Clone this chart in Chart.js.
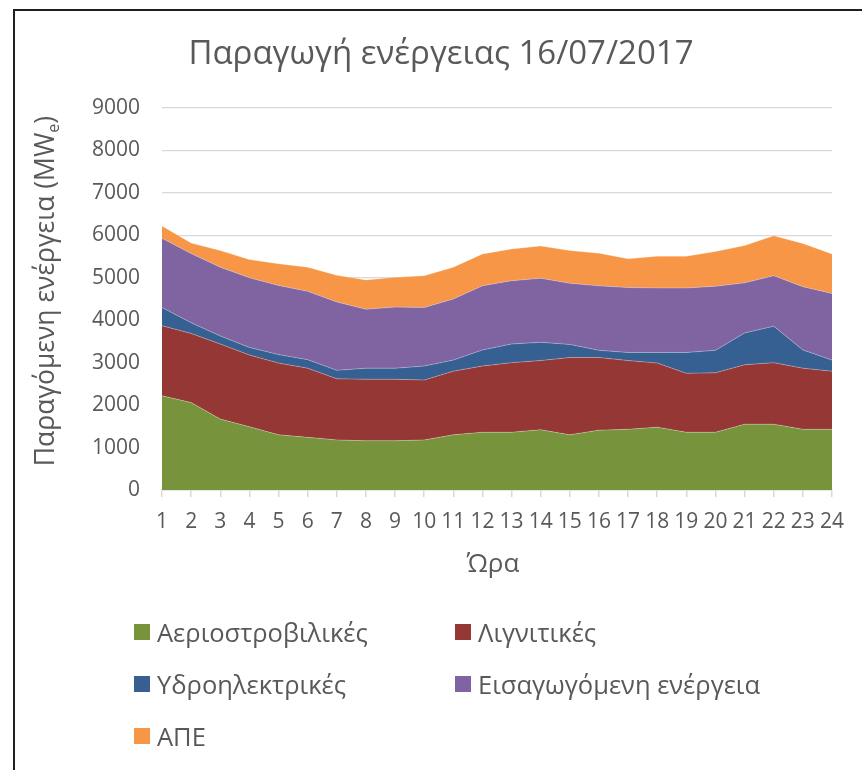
<!DOCTYPE html>
<html lang="el">
<head>
<meta charset="utf-8">
<title>Παραγωγή ενέργειας 16/07/2017</title>
<script src="https://cdn.jsdelivr.net/npm/chart.js@4/dist/chart.umd.min.js"></script>
<style>
  html, body { margin: 0; padding: 0; background: #fff; }
  #wrap { position: relative; width: 862px; height: 770px; overflow: hidden; font-family: "Open Sans", sans-serif; color: #595959; }
  #frame { position: absolute; left: 13px; top: 9px; right: -10px; bottom: -10px; border-left: 2px solid #1f1f1f; border-top: 2px solid #1f1f1f; }
  canvas { position: absolute; left: 0; top: 0; }
  .txt { position: absolute; white-space: nowrap; }
  #title { left: 0; width: 882px; top: 30px; text-align: center; font-size: 33px; line-height: 44px; }
  #ytitle { left: 44px; top: 291px; font-size: 26.5px; line-height: 34px; transform: translate(-50%, -50%) rotate(-90deg); }
  #ytitle sub { font-size: 16px; vertical-align: -5px; line-height: 0; }
  #xtitle { left: 493px; top: 562px; font-size: 26px; line-height: 34px; transform: translate(-50%, -50%); }
  .leg { position: absolute; display: flex; align-items: center; font-size: 25.5px; line-height: 34px; white-space: nowrap; }
  .leg i { display: inline-block; width: 16px; height: 16px; margin-right: 7px; }
</style>
</head>
<body>
<div id="wrap">
  <canvas id="c" width="862" height="770"></canvas>
  <div id="frame"></div>
  <div id="title" class="txt">Παραγωγή ενέργειας 16/07/2017</div>
  <div id="ytitle" class="txt">Παραγόμενη ενέργεια (MW<sub>e</sub>)</div>
  <div id="xtitle" class="txt">Ώρα</div>
  <div id="legend"></div>
</div>
<script>
// Hour of day
const hours = ['1','2','3','4','5','6','7','8','9','10','11','12','13','14','15','16','17','18','19','20','21','22','23','24'];

// Hourly production per source (MWe), stacked in this order
const gasTurbine = [2220, 2060, 1670, 1490, 1300, 1240, 1180, 1160, 1160, 1180, 1300, 1360, 1360, 1420, 1300, 1410, 1430, 1480, 1360, 1360, 1550, 1550, 1430, 1430];
const lignite    = [1650, 1630, 1770, 1690, 1690, 1630, 1440, 1450, 1450, 1410, 1500, 1560, 1640, 1630, 1820, 1710, 1620, 1510, 1390, 1400, 1400, 1450, 1440, 1370];
const hydro      = [ 430,  250,  190,  180,  200,  200,  200,  260,  260,  330,  260,  380,  440,  430,  310,  170,  190,  250,  490,  530,  750,  860,  430,  260];
const imports    = [1630, 1630, 1620, 1640, 1630, 1610, 1610, 1390, 1440, 1380, 1440, 1510, 1490, 1510, 1440, 1520, 1530, 1520, 1520, 1510, 1180, 1190, 1490, 1570];
const renewables = [ 290,  250,  390,  430,  510,  570,  630,  690,  700,  750,  750,  750,  750,  760,  770,  770,  680,  750,  750,  820,  880,  940, 1020,  930];

const seriesNames = ['Αεριοστροβιλικές', 'Λιγνιτικές', 'Υδροηλεκτρικές', 'Εισαγωγόμενη ενέργεια', 'ΑΠΕ'];
const seriesData  = [gasTurbine, lignite, hydro, imports, renewables];
const seriesColors = ['#77933C', '#953735', '#376092', '#8064A2', '#F79646'];

// Y axis range
const yMin = 0, yMax = 9000, yStep = 1000;

const datasets = seriesData.map((d, i) => ({
  label: seriesNames[i],
  data: d,
  backgroundColor: seriesColors[i],
  borderColor: 'rgba(255,255,255,0.35)',
  borderWidth: 0.8,
  pointRadius: 0,
  pointHoverRadius: 0,
  tension: 0,
  fill: i === 0 ? 'origin' : '-1'
}));

const tickFont = { family: '"Open Sans", sans-serif', size: 21 };

new Chart(document.getElementById('c'), {
  type: 'line',
  data: { labels: hours, datasets },
  options: {
    responsive: false,
    animation: false,
    devicePixelRatio: 1,
    layout: { padding: { left: 90, right: 30, top: 108, bottom: 220 } },
    plugins: {
      legend: { display: false },
      title: { display: false },
      tooltip: { enabled: false },
      filler: { propagate: false }
    },
    scales: {
      x: {
        type: 'category',
        offset: false,
        afterFit: s => { s.height = 60; },
        grid: {
          offset: false,
          drawOnChartArea: false,
          drawTicks: true,
          tickLength: 7,
          color: '#d9d9d9',
          lineWidth: 1.5
        },
        border: { display: true, color: '#d9d9d9', width: 1.5 },
        ticks: { color: '#595959', font: tickFont, padding: 12, maxRotation: 0, autoSkip: false }
      },
      y: {
        stacked: true,
        min: yMin,
        max: yMax,
        afterFit: s => { s.width = 72; },
        grid: { color: '#d9d9d9', lineWidth: 1.2, drawTicks: false },
        border: { display: false },
        ticks: {
          stepSize: yStep,
          color: '#595959',
          font: tickFont,
          padding: 22,
          callback: v => String(v)
        }
      }
    }
  }
});

// Legend: two columns, three rows
const legend = document.getElementById('legend');
const legPos = [[134, 632], [455, 632], [134, 684], [455, 684], [134, 736]];
seriesNames.forEach((name, i) => {
  const el = document.createElement('div');
  el.className = 'leg';
  el.style.left = legPos[i][0] + 'px';
  el.style.top = (legPos[i][1] - 17) + 'px';
  const sw = document.createElement('i');
  sw.style.background = seriesColors[i];
  el.appendChild(sw);
  el.appendChild(document.createTextNode(name));
  legend.appendChild(el);
});
</script>
</body>
</html>
